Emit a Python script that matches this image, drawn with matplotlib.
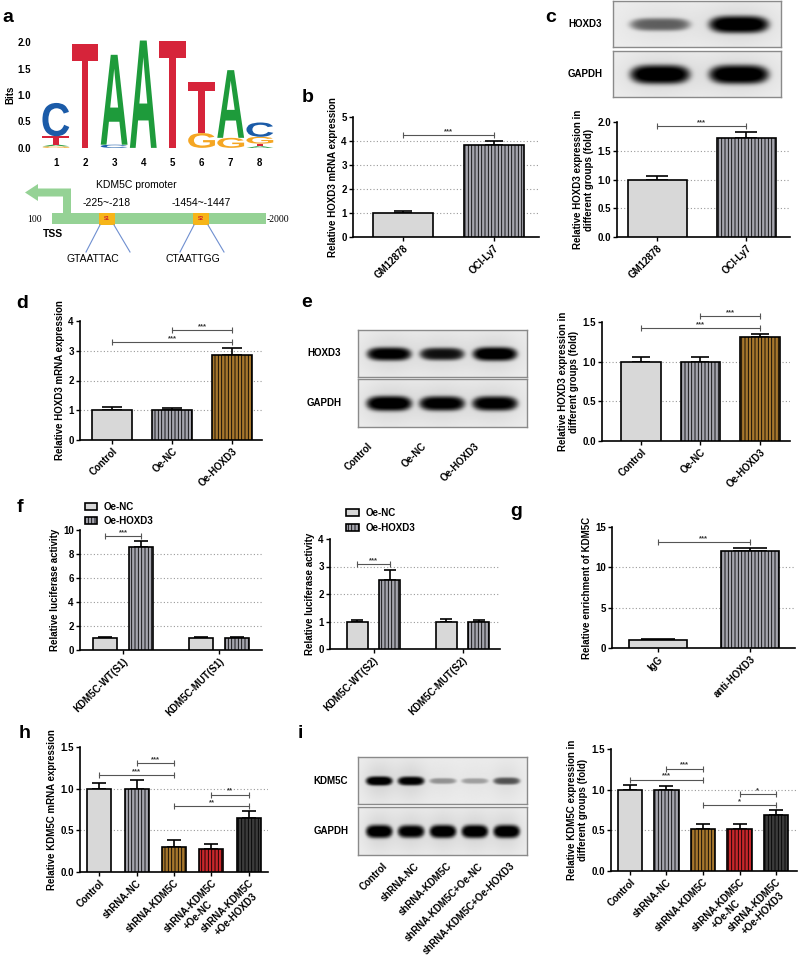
import numpy as np
import matplotlib
matplotlib.use('Agg')
import matplotlib.pyplot as plt
from matplotlib.patches import Rectangle, Polygon, PathPatch
from matplotlib.textpath import TextPath
from matplotlib.font_manager import FontProperties
from matplotlib.transforms import Affine2D, blended_transform_factory
from matplotlib.ticker import FormatStrFormatter

plt.rcParams['font.family'] = ['Liberation Sans', 'DejaVu Sans']
plt.rcParams['font.weight'] = 'bold'
plt.rcParams['axes.labelweight'] = 'bold'
plt.rcParams['font.size'] = 7
plt.rcParams['hatch.linewidth'] = 0.6

W, H = 800, 959

# ---------------- data ----------------
# a : motif logo (letter, bits) stacked from bottom
logo_pos = [1, 2, 3, 4, 5, 6, 7, 8]
logo_stacks = [
    [('G', 0.03), ('A', 0.03), ('T', 0.16), ('C', 0.63)],
    [('T', 1.97)],
    [('C', 0.06), ('A', 1.70)],
    [('A', 2.03)],
    [('T', 2.03)],
    [('G', 0.28), ('T', 0.96)],
    [('G', 0.19), ('A', 1.28)],
    [('A', 0.03), ('T', 0.05), ('G', 0.13), ('C', 0.27)],
]
site_labels = ['-225~-218', '-1454~-1447']
site_seqs = ['GTAATTAC', 'CTAATTGG']

# b
b_groups = ['GM12878', 'OCI-Ly7']
b_mean = [1.0, 3.82]
b_err = [0.07, 0.20]
b_sig = [(0, 1, 4.25, '***')]

# c
c_groups = ['GM12878', 'OCI-Ly7']
c_mean = [1.0, 1.72]
c_err = [0.06, 0.11]
c_sig = [(0, 1, 1.93, '***')]
c_hoxd3_band = [0.55, 1.0]
c_gapdh_band = [1.0, 1.0]

# d
d_groups = ['Control', 'Oe-NC', 'Oe-HOXD3']
d_mean = [1.0, 1.0, 2.85]
d_err = [0.10, 0.07, 0.25]
d_sig = [(1, 2, 3.7, '***'), (0, 2, 3.3, '***')]

# e
e_groups = ['Control', 'Oe-NC', 'Oe-HOXD3']
e_mean = [1.0, 1.0, 1.31]
e_err = [0.06, 0.06, 0.04]
e_sig = [(1, 2, 1.57, '***'), (0, 2, 1.42, '***')]
e_hoxd3_band = [0.95, 0.85, 1.0]
e_gapdh_band = [1.0, 0.95, 0.95]

# f
f_series = ['Oe-NC', 'Oe-HOXD3']
f1_groups = ['KDM5C-WT(S1)', 'KDM5C-MUT(S1)']
f1_nc = [1.0, 1.0]
f1_nc_err = [0.05, 0.10]
f1_hox = [8.55, 1.0]
f1_hox_err = [0.50, 0.08]
f1_sig = [(0, 9.5, '***')]
f2_groups = ['KDM5C-WT(S2)', 'KDM5C-MUT(S2)']
f2_nc = [1.0, 1.0]
f2_nc_err = [0.06, 0.10]
f2_hox = [2.52, 1.0]
f2_hox_err = [0.37, 0.05]
f2_sig = [(0, 3.08, '***')]

# g
g_groups = ['IgG', 'anti-HOXD3']
g_mean = [1.0, 12.0]
g_err = [0.15, 0.35]
g_sig = [(0, 1, 13.1, '***')]

# h
h_groups = ['Control', 'shRNA-NC', 'shRNA-KDM5C', 'shRNA-KDM5C\n+Oe-NC', 'shRNA-KDM5C\n+Oe-HOXD3']
h_mean = [1.0, 1.0, 0.30, 0.28, 0.65]
h_err = [0.07, 0.10, 0.09, 0.06, 0.08]
h_sig = [(1, 2, 1.305, '***'), (0, 2, 1.165, '***'), (3, 4, 0.93, '**'), (2, 4, 0.795, '**')]

# i
i_lanes = ['Control', 'shRNA-NC', 'shRNA-KDM5C', 'shRNA-KDM5C+Oe-NC', 'shRNA-KDM5C+Oe-HOXD3']
i_mean = [1.0, 1.0, 0.52, 0.52, 0.69]
i_err = [0.06, 0.05, 0.06, 0.06, 0.06]
i_sig = [(1, 2, 1.26, '***'), (0, 2, 1.125, '***'), (3, 4, 0.945, '*'), (2, 4, 0.81, '*')]
i_kdm5c_band = [1.0, 0.95, 0.35, 0.3, 0.6]
i_gapdh_band = [1.0, 0.95, 1.0, 1.0, 1.0]

# ---------------- styles ----------------
letter_col = {'A': '#1e9b3b', 'C': '#1b5ba8', 'G': '#f5a623', 'T': '#d6243a'}
bar_style = {
    'light': ('#d8d8d8', ''),
    'gray': ('#a5a5ae', '|||||'),
    'brown': ('#a7772d', '|||||'),
    'red': ('#c7272b', '|||||'),
    'dark': ('#3c3c3c', '|||||'),
}

fig = plt.figure(figsize=(W / 100, H / 100), dpi=100)


def px_axes(x0, y0, x1, y1):
    return fig.add_axes([x0 / W, 1 - y1 / H, (x1 - x0) / W, (y1 - y0) / H])


def ftext(x, y, s, **kw):
    fig.text(x / W, 1 - y / H, s, **kw)


def style_axes(ax, xlim, ylim, yticks, yfmt, ylabel):
    ax.set_xlim(*xlim)
    ax.set_ylim(*ylim)
    ax.set_yticks(yticks)
    ax.yaxis.set_major_formatter(FormatStrFormatter(yfmt))
    for t in yticks[1:-1]:
        ax.axhline(t, color='#9a9a9a', ls=(0, (1, 2)), lw=0.8, zorder=0)
    for s in ['top', 'right']:
        ax.spines[s].set_visible(False)
    for s in ['left', 'bottom']:
        ax.spines[s].set_linewidth(1.2)
    ax.tick_params(direction='out', length=3, width=1.0, labelsize=7, pad=1.5)
    ax.set_ylabel(ylabel, fontsize=7, labelpad=2)


def bracket(ax, x0, x1, y, txt):
    ax.plot([x0, x1], [y, y], color='#555555', lw=0.8, marker='|', ms=4, mew=0.8,
            clip_on=False, zorder=4)
    ax.text((x0 + x1) / 2, y, txt, ha='center', va='bottom', fontsize=5.5,
            color='#333333', zorder=4)


def set_xlabels(ax, pos, names):
    ax.set_xticks(pos)
    ax.set_xticklabels(names, rotation=45, ha='right', rotation_mode='anchor',
                       multialignment='center', fontsize=7)


def bar_panel(box, xlim, ylim, yticks, yfmt, names, means, errs, styles, ylabel,
              width, capsize, sig):
    ax = px_axes(*box)
    x = np.arange(len(means))
    for xi, m, s in zip(x, means, styles):
        fc, hatch = bar_style[s]
        ax.bar(xi, m, width, color=fc, edgecolor='black', linewidth=1.2,
               hatch=hatch, zorder=3)
    ax.errorbar(x, means, yerr=[np.zeros(len(errs)), errs], fmt='none',
                ecolor='black', elinewidth=1.2, capsize=capsize, capthick=1.2, zorder=2)
    style_axes(ax, xlim, ylim, yticks, yfmt, ylabel)
    set_xlabels(ax, x, names)
    for a, b, y, t in sig:
        bracket(ax, a, b, y, t)
    return ax


def group_panel(box, xlim, ylim, yticks, names, nc, nc_err, hox, hox_err, off,
                width, capsize, sig, leg_anchor):
    ax = px_axes(*box)
    x = np.arange(len(names))
    handles = []
    for vals, errs, s, sh in [(nc, nc_err, 'light', -off), (hox, hox_err, 'gray', off)]:
        fc, hatch = bar_style[s]
        bc = ax.bar(x + sh, vals, width, color=fc, edgecolor='black', linewidth=1.2,
                    hatch=hatch, zorder=3)
        ax.errorbar(x + sh, vals, yerr=[np.zeros(len(errs)), errs], fmt='none',
                    ecolor='black', elinewidth=1.2, capsize=capsize, capthick=1.2, zorder=2)
        handles.append(bc)
    style_axes(ax, xlim, ylim, yticks, '%g', 'Relative luciferase activity')
    set_xlabels(ax, x, names)
    for g, y, t in sig:
        bracket(ax, g - off, g + off, y, t)
    ax.legend(handles, f_series, loc='upper left', bbox_to_anchor=leg_anchor,
              frameon=False, fontsize=7, handlelength=1.3, handleheight=0.75,
              borderaxespad=0, borderpad=0, labelspacing=0.45, handletextpad=0.7)
    return ax


def blot(box, bands, xlim, halfw, thick, label, label_x):
    ax = px_axes(*box)
    xs = np.linspace(xlim[0], xlim[1], 400)
    ys = np.linspace(-1, 1, 80)
    X, Y = np.meshgrid(xs, ys)
    dark = np.zeros_like(X)
    for k, a in enumerate(bands):
        th = thick * (0.45 + 0.55 * a)
        r = np.abs((X - k) / halfw) ** 4 + ((Y + 0.02) / th) ** 2
        dark += a * np.exp(-r ** 2)
        dark += 0.10 * a * np.exp(-((X - k) / (halfw * 1.2)) ** 2 - (Y / 0.9) ** 2)
    img = 0.93 - 0.93 * np.clip(dark, 0, 1)
    ax.imshow(img, cmap='gray', vmin=0, vmax=1, aspect='auto', interpolation='bilinear',
              extent=(xlim[0], xlim[1], -1, 1), origin='lower')
    ax.set_xticks([])
    ax.set_yticks([])
    for s in ax.spines.values():
        s.set_color('#8a8a8a')
        s.set_linewidth(1.0)
    ftext(label_x, (box[1] + box[3]) / 2, label, ha='center', va='center', fontsize=7)
    return ax


def blot_labels(ax, names, dx, dy_px, box_h):
    tr = blended_transform_factory(ax.transData, ax.transAxes)
    for k, n in enumerate(names):
        ax.text(k + dx, -dy_px / box_h, n, transform=tr, rotation=45, ha='right',
                va='top', rotation_mode='anchor', fontsize=7)


# ---------------- panel a : logo ----------------
fp = FontProperties(family='Liberation Sans', weight='bold')
ax = px_axes(41, 40, 275, 150)
for xp, stack in zip(logo_pos, logo_stacks):
    y0 = 0.0
    for ch, hgt in stack:
        tp = TextPath((0, 0), ch, size=1, prop=fp)
        bb = tp.get_extents()
        w = 0.92
        tr = Affine2D().translate(-bb.x0, -bb.y0).scale(w / bb.width, hgt / bb.height) \
            .translate(xp - w / 2, y0)
        ax.add_patch(PathPatch(tr.transform_path(tp), fc=letter_col[ch], ec='none'))
        y0 += hgt
ax.set_xlim(0.49, 8.52)
ax.set_ylim(-0.04, 2.04)
ax.set_xticks(logo_pos)
ax.set_yticks([0, 0.5, 1.0, 1.5, 2.0])
ax.yaxis.set_major_formatter(FormatStrFormatter('%.1f'))
for s in ax.spines.values():
    s.set_visible(False)
ax.tick_params(length=0, labelsize=7)
ax.tick_params(axis='y', pad=7)
ax.tick_params(axis='x', pad=6)
ax.set_ylabel('Bits', fontsize=7, labelpad=2)

# panel a : promoter scheme (pixel coordinates)
ax = px_axes(0, 170, 290, 270)
ax.set_xlim(0, 290)
ax.set_ylim(270, 170)
ax.axis('off')
green = '#95d295'
ax.add_patch(Rectangle((52, 213), 214, 11, fc=green, ec='none'))
ax.add_patch(Polygon([(63, 213), (63, 196.5), (38, 196.5), (38, 201), (25, 192.5),
                      (38, 184), (38, 188.5), (71, 188.5), (71, 213)], fc=green, ec='none'))
ax.text(136, 185, 'KDM5C promoter', ha='center', va='center', fontsize=7.5, weight='normal')
ax.text(35, 219, '100', ha='center', va='center', fontsize=7, family='Liberation Serif',
        weight='normal')
ax.text(267, 219, '-2000', ha='left', va='center', fontsize=7, family='Liberation Serif',
        weight='normal', clip_on=False)
ax.text(53, 234, 'TSS', ha='center', va='center', fontsize=7.5)
for xs, lab, seq, xt in [(99, site_labels[0], site_seqs[0], 93),
                         (193, site_labels[1], site_seqs[1], 193)]:
    ax.add_patch(Rectangle((xs, 213), 16, 12, fc='#f6b519', ec='none'))
    ax.text(xs + 8, 219, 'S%d' % (1 if xs < 150 else 2), ha='center', va='center',
            fontsize=3.5, color='#d0202a')
    ax.text(xs + 8, 203, lab, ha='center', va='center', fontsize=7.5, weight='normal')
    ax.plot([xs + 1, xs - 13], [225, 252], color='#6f8fd0', lw=0.8)
    ax.plot([xs + 15, xs + 31], [225, 252], color='#6f8fd0', lw=0.8)
    ax.text(xt, 259, seq, ha='center', va='center', fontsize=7.5, weight='normal')

# ---------------- panel b ----------------
bar_panel((353, 117, 539, 237), (-0.55, 1.5), (0, 5), [0, 1, 2, 3, 4, 5], '%g',
          b_groups, b_mean, b_err, ['light', 'gray'], 'Relative HOXD3 mRNA expression',
          0.66, 6.5, b_sig)

# ---------------- panel c ----------------
blot((613, 1, 781, 47), c_hoxd3_band, (-0.595, 1.53), 0.38, 0.38, 'HOXD3', 585)
blot((613, 51, 781, 97), c_gapdh_band, (-0.595, 1.53), 0.38, 0.42, 'GAPDH', 585)
bar_panel((617, 122, 790, 237), (-0.45, 1.49), (0, 2), [0, 0.5, 1.0, 1.5, 2.0], '%.1f',
          c_groups, c_mean, c_err, ['light', 'gray'],
          'Relative HOXD3 expression in\ndifferent groups (fold)', 0.66, 8, c_sig)

# ---------------- panel d ----------------
bar_panel((80, 321, 262, 440), (-0.533, 2.5), (0, 4), [0, 1, 2, 3, 4], '%g',
          d_groups, d_mean, d_err, ['light', 'gray', 'brown'],
          'Relative HOXD3 mRNA expression', 0.67, 7, d_sig)

# ---------------- panel e ----------------
blot((358, 330, 527, 377), e_hoxd3_band, (-0.585, 2.6), 0.42, 0.3, 'HOXD3', 324)
axb = blot((358, 379, 527, 427), e_gapdh_band, (-0.585, 2.6), 0.43, 0.32, 'GAPDH', 324)
blot_labels(axb, e_groups, -0.4, 14, 48)
bar_panel((602, 322, 790, 441), (-0.655, 2.504), (0, 1.5), [0, 0.5, 1.0, 1.5], '%.1f',
          e_groups, e_mean, e_err, ['light', 'gray', 'brown'],
          'Relative HOXD3 expression in\ndifferent groups (fold)', 0.66, 6.5, e_sig)

# ---------------- panel f ----------------
group_panel((80, 530, 262, 650), (-0.449, 1.452), (0, 10), [0, 2, 4, 6, 8, 10],
            f1_groups, f1_nc, f1_nc_err, f1_hox, f1_hox_err, 0.188, 0.25, 5, f1_sig,
            (0.025, 1.235))
group_panel((330, 539, 500, 649), (-0.489, 1.421), (0, 4), [0, 1, 2, 3, 4],
            f2_groups, f2_nc, f2_nc_err, f2_hox, f2_hox_err, 0.185, 0.236, 4.5, f2_sig,
            (0.094, 1.28))

# ---------------- panel g ----------------
bar_panel((612, 527, 795, 648), (-0.5, 1.49), (0, 15), [0, 5, 10, 15], '%g',
          g_groups, g_mean, g_err, ['light', 'gray'], 'Relative enrichment of KDM5C',
          0.63, 12, g_sig)

# ---------------- panel h ----------------
bar_panel((80, 747, 268, 872), (-0.507, 4.507), (0, 1.5), [0, 0.5, 1.0, 1.5], '%.1f',
          h_groups, h_mean, h_err, ['light', 'gray', 'brown', 'red', 'dark'],
          'Relative KDM5C mRNA expression', 0.64, 5, h_sig)

# ---------------- panel i ----------------
blot((358, 757, 527, 804), i_kdm5c_band, (-0.66, 4.63), 0.42, 0.2, 'KDM5C', 331)
axb = blot((358, 807, 527, 855), i_gapdh_band, (-0.66, 4.63), 0.42, 0.28, 'GAPDH', 331)
blot_labels(axb, i_lanes, 0.1, 6, 48)
bar_panel((611, 749, 797, 871), (-0.52, 4.575), (0, 1.5), [0, 0.5, 1.0, 1.5], '%.1f',
          h_groups, i_mean, i_err, ['light', 'gray', 'brown', 'red', 'dark'],
          'Relative KDM5C expression in\ndifferent groups (fold)', 0.66, 5, i_sig)

# ---------------- panel letters ----------------
for lab, x, y in [('a', 8, 17), ('b', 308, 97), ('c', 551, 18), ('d', 22, 303),
                  ('e', 307, 302), ('f', 20, 508), ('g', 516, 512), ('h', 25, 734),
                  ('i', 300, 734)]:
    ftext(x, y, lab, ha='center', va='center', fontsize=14)

fig.savefig('out.png', dpi=100)
